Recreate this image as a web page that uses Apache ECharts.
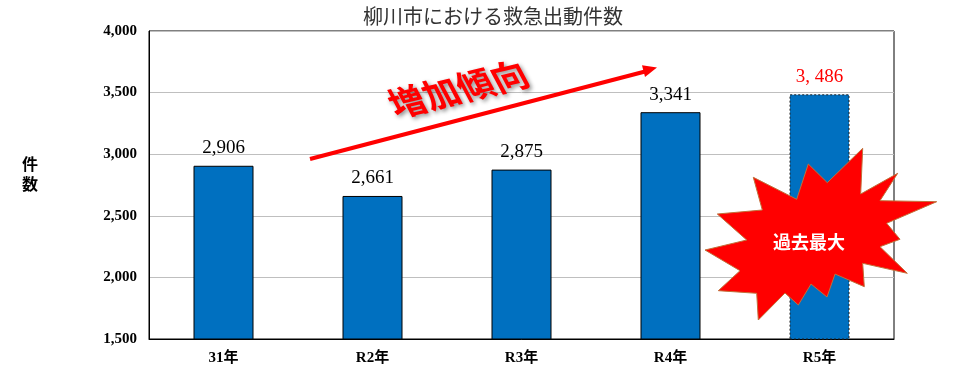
<!DOCTYPE html>
<html>
<head>
<meta charset="utf-8">
<script src="https://cdn.jsdelivr.net/npm/echarts@6/dist/echarts.min.js"></script>
<style>
html,body{margin:0;padding:0;background:#fff;}
#chart{width:965px;height:375px;}
</style>
</head>
<body>
<div id="chart"></div>
<script>
const categories = ['31年', 'R2年', 'R3年', 'R4年', 'R5年'];
const values = [2906, 2661, 2875, 3341, 3486];
const yTicks = { min: 1500, max: 4000, interval: 500 };
const highlightIndex = 4;
const titleText = '柳川市における救急出動件数';
const yName = '件\n数';
const trendText = '増加傾向';
const burstText = '過去最大';

const serif = "'Liberation Serif', 'Noto Sans CJK JP', serif";
const gothic = "'Noto Sans CJK JP', sans-serif";

const burstPts = [
  [862.7,148.3],[860.7,194],[897.7,173.3],[880,200.7],[936.7,201.7],[886.7,223.3],
  [900,239.3],[880,246.7],[907.3,273.3],[862.7,263.3],[864.3,286.7],[835,274],
  [827,297],[811,284],[798.3,305],[785,293],[758.3,320],[756.7,293.3],
  [718.3,290.7],[740,270.7],[705,250],[746.7,240],[717.3,214],[762.3,210],
  [753.3,177.3],[796.7,199.3],[808.3,164],[827.3,182.7]
];

const chart = echarts.init(document.getElementById('chart'), null, { renderer: 'canvas' });

const seriesData = values.map((v, i) => {
  const item = { value: v };
  if (i === highlightIndex) {
    item.itemStyle = { borderColor: '#222', borderWidth: 1, borderType: [2, 2] };
    item.label = { color: '#ff0000' };
  }
  return item;
});

chart.setOption({
  animation: false,
  title: {
    text: titleText,
    left: 358,
    top: 1,
    textStyle: { fontFamily: gothic, fontSize: 20, fontWeight: 'normal', color: '#333' }
  },
  grid: {
    left: 149, right: 71, top: 31, bottom: 36,
    show: true, borderColor: '#000', borderWidth: 1, backgroundColor: 'transparent'
  },
  xAxis: {
    type: 'category',
    data: categories,
    axisLine: { lineStyle: { color: '#000', width: 1 } },
    axisTick: { inside: true, length: 5, lineStyle: { color: '#000' } },
    axisLabel: { fontFamily: serif, fontSize: 15, fontWeight: 'bold', color: '#000', margin: 12 },
    splitLine: { show: false }
  },
  yAxis: {
    type: 'value',
    min: yTicks.min, max: yTicks.max, interval: yTicks.interval,
    axisLine: { show: true, lineStyle: { color: '#000', width: 1 } },
    axisTick: { show: false },
    axisLabel: {
      fontFamily: serif, fontSize: 15, fontWeight: 'bold', color: '#000', margin: 12,
      formatter: v => v.toLocaleString('en-US')
    },
    splitLine: { show: true, lineStyle: { color: '#bfbfbf', width: 1 } }
  },
  series: [{
    type: 'bar',
    data: seriesData,
    barWidth: 60,
    itemStyle: { color: '#0070C0', borderColor: '#000', borderWidth: 1 },
    label: {
      show: true, position: 'top', distance: 8,
      fontFamily: serif, fontSize: 19, color: '#000',
      formatter: p => {
        const s = p.value.toLocaleString('en-US');
        return p.dataIndex === highlightIndex ? s.replace(',', ', ') : s;
      }
    }
  }],
  graphic: [
    {
      type: 'text', left: 22, top: 156, z: 100,
      style: { text: yName, font: "bold 16px " + serif, fill: '#000', lineHeight: 20 }
    },
    {
      type: 'line', z: 100,
      shape: { x1: 310, y1: 159, x2: 647, y2: 71 },
      style: { stroke: '#ff0000', lineWidth: 4 }
    },
    {
      type: 'polygon', z: 100,
      shape: { points: [[657, 67.5], [642, 65.3], [645, 77]] },
      style: { fill: '#ff0000' }
    },
    {
      type: 'group', z: 101,
      x: 458, y: 89, rotation: 0.24,
      children: [{
        type: 'text', z: 101,
        x: 0, y: 0, skewX: 0.25,
        style: {
          text: trendText, fill: '#ff0000',
          font: "bold 35px " + gothic,
          align: 'center', verticalAlign: 'middle',
          textShadowColor: 'rgba(0,0,0,0.45)', textShadowBlur: 4,
          textShadowOffsetX: 2, textShadowOffsetY: 2
        }
      }]
    },
    {
      type: 'polygon', z: 100,
      shape: { points: burstPts },
      style: { fill: '#ff0000', stroke: '#c0703a', lineWidth: 1 }
    },
    {
      type: 'text', z: 101,
      x: 809, y: 242,
      style: {
        text: burstText, fill: '#ffffff',
        font: "bold 18px " + gothic,
        align: 'center', verticalAlign: 'middle'
      }
    }
  ]
});
</script>
</body>
</html>
